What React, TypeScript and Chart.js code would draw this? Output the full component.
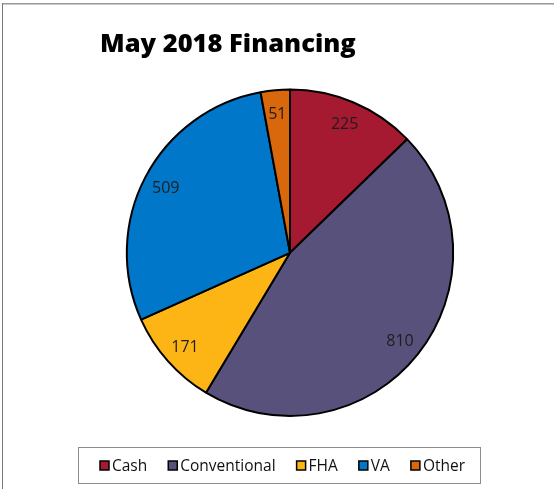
import React, { useEffect, useRef } from "react";
import { Chart, registerables } from "chart.js";

Chart.register(...registerables);

const categories = ["Cash", "Conventional", "FHA", "VA", "Other"];
const values = [225, 810, 171, 509, 51];
const colors = ["#A51931", "#58517B", "#FDB515", "#0077C8", "#D9670B"];
const titleText = "May 2018 Financing";

const FONT = "'Open Sans', 'DejaVu Sans', sans-serif";

const framePlugin = {
  id: "frame",
  beforeDraw(chart: any) {
    const { ctx, width, height } = chart;
    ctx.save();
    ctx.fillStyle = "#ffffff";
    ctx.fillRect(0, 0, width, height);
    ctx.lineWidth = 1;
    ctx.strokeStyle = "#9a9a9a";
    ctx.beginPath();
    ctx.moveTo(2, 3.5);
    ctx.lineTo(width, 3.5);
    ctx.stroke();
    ctx.strokeStyle = "#c8c8c8";
    ctx.beginPath();
    ctx.moveTo(3, 4.5);
    ctx.lineTo(width, 4.5);
    ctx.stroke();
    ctx.strokeStyle = "#7a7a7a";
    ctx.beginPath();
    ctx.moveTo(2.5, 3);
    ctx.lineTo(2.5, height - 1);
    ctx.stroke();
    ctx.restore();
  },
};

const sliceLabelPlugin = {
  id: "sliceLabels",
  afterDatasetsDraw(chart: any) {
    const { ctx } = chart;
    const meta = chart.getDatasetMeta(0);
    const data = chart.data.datasets[0].data as number[];
    ctx.save();
    ctx.font = `16px ${FONT}`;
    ctx.fillStyle = "#1e1e1e";
    ctx.textAlign = "center";
    ctx.textBaseline = "middle";
    meta.data.forEach((arc: any, i: number) => {
      const { x, y, startAngle, endAngle, outerRadius } = arc.getProps(
        ["x", "y", "startAngle", "endAngle", "outerRadius"],
        true
      );
      const mid = (startAngle + endAngle) / 2;
      const r = outerRadius * 0.86;
      ctx.fillText(String(data[i]), x + Math.cos(mid) * r, y + Math.sin(mid) * r + 1);
    });
    ctx.restore();
  },
};

const boxLegendPlugin = {
  id: "boxLegend",
  afterDraw(chart: any) {
    const { ctx } = chart;
    const labels = chart.data.labels as string[];
    const bg = chart.data.datasets[0].backgroundColor as string[];
    const boxL = 78.5, boxT = 447.5, boxW = 402, boxH = 36;
    ctx.save();
    ctx.strokeStyle = "#8c8c8c";
    ctx.lineWidth = 1;
    ctx.strokeRect(boxL, boxT, boxW, boxH);
    ctx.font = `15.5px ${FONT}`;
    const sq = 9, gapText = 3, gapItem = 21;
    const widths = labels.map((l) => sq + gapText + ctx.measureText(l).width);
    const total = widths.reduce((a, b) => a + b, 0) + gapItem * (labels.length - 1);
    let x = boxL + (boxW - total) / 2 + 3;
    const cy = boxT + boxH / 2;
    ctx.textBaseline = "middle";
    ctx.textAlign = "left";
    labels.forEach((l, i) => {
      ctx.fillStyle = bg[i];
      ctx.fillRect(x, cy - sq / 2, sq, sq);
      ctx.strokeStyle = "#000";
      ctx.lineWidth = 1.5;
      ctx.strokeRect(x, cy - sq / 2, sq, sq);
      ctx.fillStyle = "#111";
      ctx.fillText(l, x + sq + gapText, cy + 1);
      x += widths[i] + gapItem;
    });
    ctx.restore();
  },
};

export default function App() {
  const ref = useRef<HTMLCanvasElement | null>(null);
  useEffect(() => {
    if (!ref.current) return;
    const chart = new Chart(ref.current, {
      type: "pie",
      data: {
        labels: categories,
        datasets: [
          {
            data: values,
            backgroundColor: colors,
            borderColor: "#000000",
            borderWidth: 2,
            hoverOffset: 0,
            offset: 0,
          },
        ],
      },
      options: {
        responsive: false,
        animation: false,
        events: [],
        layout: { padding: { left: 100, right: 74, top: 0, bottom: 73 } },
        plugins: {
          legend: { display: false },
          tooltip: { enabled: false },
          title: {
            display: true,
            text: titleText,
            align: "start",
            color: "#000000",
            font: { family: FONT, size: 25.5, weight: "800" },
            padding: { top: 29, bottom: 29 },
          },
        },
      },
      plugins: [framePlugin, sliceLabelPlugin, boxLegendPlugin],
    });
    return () => chart.destroy();
  }, []);
  return (
    <div style={{ position: "absolute", left: 0, top: 0, width: 554, height: 490 }}>
      <canvas ref={ref} width={554} height={490} style={{ display: "block" }} />
    </div>
  );
}
